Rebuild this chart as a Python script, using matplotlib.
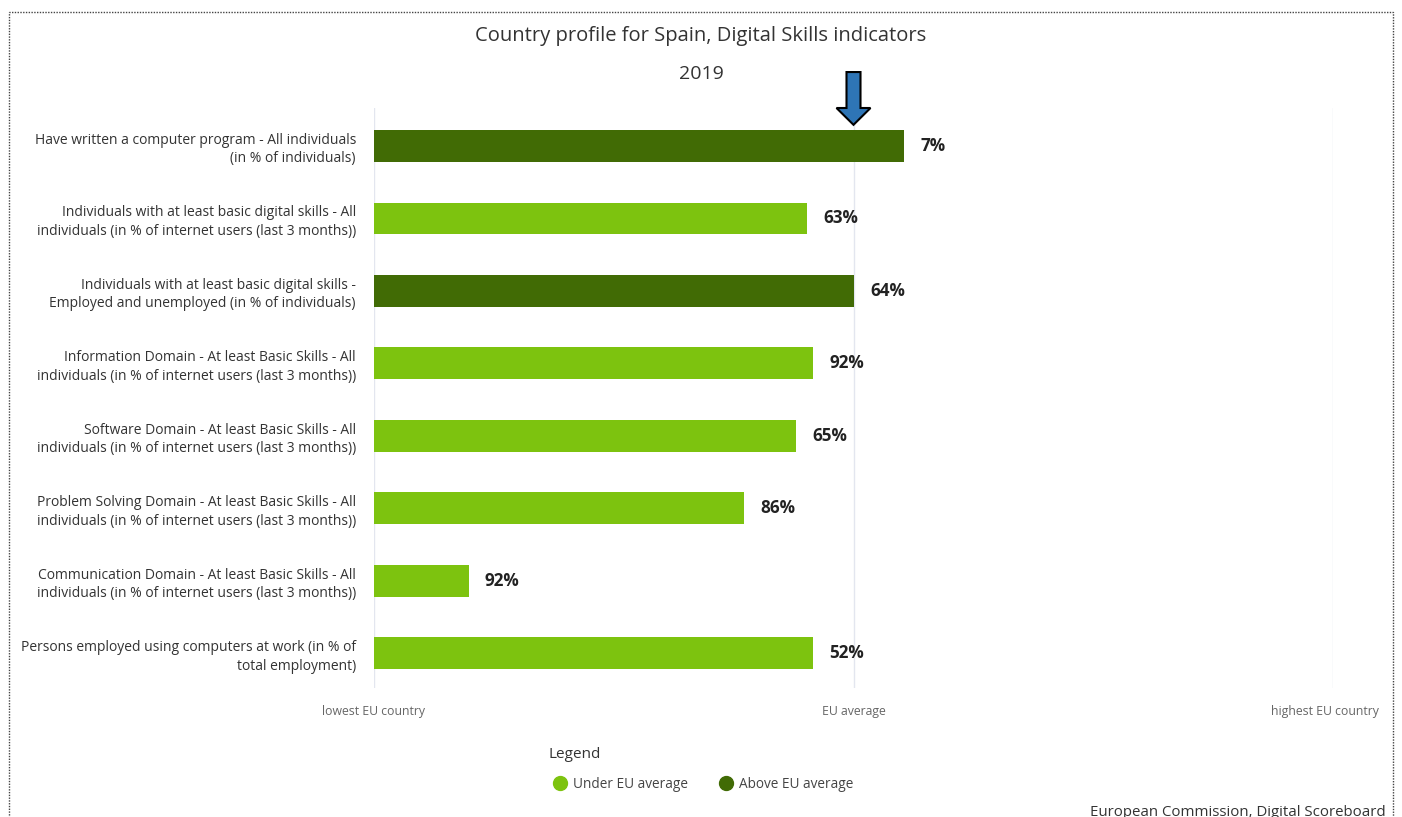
import matplotlib.pyplot as plt
import matplotlib.transforms as mtransforms
from matplotlib.patches import Polygon, Rectangle
from matplotlib.lines import Line2D

plt.rcParams['font.family'] = ['Open Sans', 'DejaVu Sans']

indicators = [
    "Have written a computer program - All individuals\n(in % of individuals)",
    "Individuals with at least basic digital skills - All\nindividuals (in % of internet users (last 3 months))",
    "Individuals with at least basic digital skills -\nEmployed and unemployed (in % of individuals)",
    "Information Domain - At least Basic Skills - All\nindividuals (in % of internet users (last 3 months))",
    "Software Domain - At least Basic Skills - All\nindividuals (in % of internet users (last 3 months))",
    "Problem Solving Domain - At least Basic Skills - All\nindividuals (in % of internet users (last 3 months))",
    "Communication Domain - At least Basic Skills - All\nindividuals (in % of internet users (last 3 months))",
    "Persons employed using computers at work (in % of\ntotal employment)",
]
# position between lowest EU country (0) and highest EU country (1)
scores = [0.553, 0.4515, 0.501, 0.458, 0.44, 0.386, 0.099, 0.458]
value_labels = ["7%", "63%", "64%", "92%", "65%", "86%", "92%", "52%"]
above_avg = [True, False, True, False, False, False, False, False]
tick_pos = [0, 0.5, 1]
tick_labels = ["lowest EU country", "EU average", "highest EU country"]

light_green = "#7dc30f"
dark_green = "#416b05"

fig = plt.figure(figsize=(14.02, 8.17), dpi=100)
ax = fig.add_axes([374 / 1402, 1 - 688 / 817, 959 / 1402, 580 / 817])

y = range(len(indicators))
colors = [dark_green if a else light_green for a in above_avg]
ax.barh(y, scores, height=0.44, color=colors, zorder=3)

for i, (v, lab) in enumerate(zip(scores, value_labels)):
    ax.annotate(lab, (v, i), xytext=(11.5, 0), textcoords="offset points",
                ha="left", va="center", fontsize=12.3, fontweight="bold", color="#222222")

ax.set_xlim(0, 1)
ax.set_ylim(7.48, -0.525)
ax.set_yticks(list(y))
ax.set_yticklabels(indicators, fontsize=10, color="#333333", linespacing=1.3)
ax.set_xticks(tick_pos)
ax.set_xticklabels(tick_labels, fontsize=8.8, color="#666666")
ax.tick_params(axis="both", length=0)
ax.tick_params(axis="y", pad=13)
ax.tick_params(axis="x", pad=12)
for s in ax.spines.values():
    s.set_visible(False)
ax.grid(axis="x", color="#e3e6ef", linewidth=1, zorder=0)

# keep the last tick label inside the frame
last = ax.get_xticklabels()[-1]
last.set_transform(last.get_transform() +
                   mtransforms.ScaledTranslation(-8 / 100, 0, fig.dpi_scale_trans))

# arrow pointing at EU average
tr = ax.get_xaxis_transform()
hw, sw = 17 / 959, 7 / 959
ax.add_patch(Polygon([
    (0.5 - sw, 1.062), (0.5 + sw, 1.062), (0.5 + sw, 1.0), (0.5 + hw, 1.0),
    (0.5, 0.971), (0.5 - hw, 1.0), (0.5 - sw, 1.0)],
    closed=True, facecolor="#2e75b6", edgecolor="black", linewidth=1.5,
    transform=tr, clip_on=False, zorder=5))

fig.text(0.5, 1 - 36 / 817, "Country profile for Spain, Digital Skills indicators",
         ha="center", va="center", fontsize=14.5, color="#333333")
fig.text(0.5, 1 - 74 / 817, "2019", ha="center", va="center", fontsize=14, color="#333333")

fig.text(548 / 1402, 1 - 755 / 817, "Legend", ha="left", va="center",
         fontsize=11, color="#333333")
handles = [Line2D([], [], marker="o", linestyle="none", markersize=10, color=light_green),
           Line2D([], [], marker="o", linestyle="none", markersize=10, color=dark_green)]
leg = fig.legend(handles, ["Under EU average", "Above EU average"], ncol=2,
                 loc="center left", bbox_to_anchor=(540 / 1402, 1 - 784 / 817),
                 frameon=False, fontsize=9.8,
                 handletextpad=0.35, columnspacing=2.2, handlelength=1.2)
for t in leg.get_texts():
    t.set_color("#444444")

fig.text(1386 / 1402, 1 - 812 / 817, "European Commission, Digital Scoreboard",
         ha="right", va="center", fontsize=10.8, color="#333333")

fig.add_artist(Rectangle((9 / 1402, -0.05), 1384 / 1402, 1.05 - 12 / 817,
                         transform=fig.transFigure, fill=False, linestyle=(0, (1, 1)),
                         linewidth=1, edgecolor="#444444"))

fig.savefig("out.png", dpi=100)
